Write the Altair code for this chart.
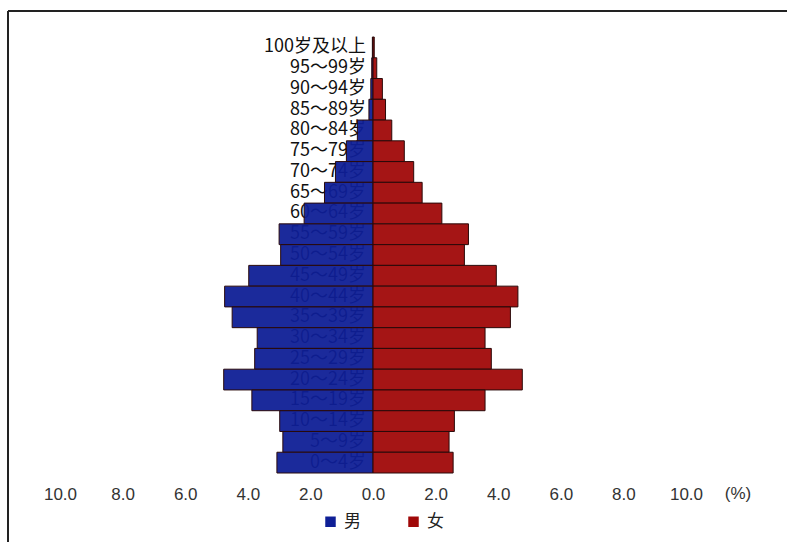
import altair as alt
import pandas as pd

ages = ["100岁及以上", "95～99岁", "90～94岁", "85～89岁", "80～84岁", "75～79岁",
        "70～74岁", "65～69岁", "60～64岁", "55～59岁", "50～54岁", "45～49岁",
        "40～44岁", "35～39岁", "30～34岁", "25～29岁", "20～24岁", "15～19岁",
        "10～14岁", "5～9岁", "0～4岁"]
male = [0.02, 0.04, 0.07, 0.13, 0.5, 0.85, 1.2, 1.55, 2.2, 3.0, 2.95, 3.97,
        4.74, 4.5, 3.7, 3.78, 4.77, 3.87, 2.98, 2.88, 3.07]
female = [0.04, 0.12, 0.3, 0.4, 0.6, 1.0, 1.3, 1.57, 2.2, 3.05, 2.92, 3.94,
          4.63, 4.39, 3.58, 3.78, 4.77, 3.58, 2.6, 2.43, 2.56]
sexes = ["男", "女"]
colors = ["#0f1f96", "#a00808"]
ticks = [-10, -8, -6, -4, -2, 0, 2, 4, 6, 8, 10]

rows = []
for a, m, f in zip(ages, male, female):
    rows.append({"age": a, "sex": "男", "value": -m})
    rows.append({"age": a, "sex": "女", "value": f})
df = pd.DataFrame(rows)
lab = pd.DataFrame({"age": ages})

xscale = alt.Scale(domain=[-10, 10], nice=False, zero=False)
yscale = alt.Scale(domain=ages, paddingInner=0, paddingOuter=0)

bars = alt.Chart(df).mark_bar(stroke="#2a0a0a", strokeWidth=1, fillOpacity=0.95).encode(
    x=alt.X("value:Q", scale=xscale, stack=None,
            axis=alt.Axis(values=ticks, labelExpr="format(abs(datum.value), '.1f')",
                          domain=False, ticks=False, grid=False, title=None,
                          labelFlush=False, labelOverlap=False,
                          labelFontSize=17, labelFont="Liberation Sans",
                          labelColor="#333", labelPadding=13)),
    x2=alt.datum(0),
    y=alt.Y("age:N", scale=yscale, axis=None),
    color=alt.Color("sex:N", scale=alt.Scale(domain=sexes, range=colors),
                    legend=alt.Legend(orient="none", legendX=262, legendY=476,
                                      direction="horizontal", title=None,
                                      symbolType="square", symbolSize=110,
                                      symbolStrokeWidth=0, symbolOpacity=1,
                                      labelFontSize=17, labelFont="Noto Sans CJK SC",
                                      labelColor="#222", columnPadding=44,
                                      labelOffset=5)),
)

labels = alt.Chart(lab).mark_text(align="right", baseline="middle", dx=-7,
                                  fontSize=18, font="Noto Sans CJK SC",
                                  color="#111").encode(
    x=alt.datum(0),
    y=alt.Y("age:N", scale=yscale, axis=None),
    text="age:N",
)

pct = alt.Chart(pd.DataFrame({"t": ["(%)"]})).mark_text(
    align="center", baseline="middle", fontSize=17, font="Liberation Sans",
    color="#333", dx=52).encode(
    x=alt.datum(10), y=alt.value(457), text="t:N")

top_line = alt.Chart(pd.DataFrame({"a": [0]})).mark_rule(
    color="#222", strokeWidth=2).encode(
    x=alt.value(-52), x2=alt.value(727), y=alt.value(-26))
left_line = alt.Chart(pd.DataFrame({"a": [0]})).mark_rule(
    color="#222", strokeWidth=2).encode(
    x=alt.value(-52), y=alt.value(-26), y2=alt.value(505))

chart = alt.layer(labels, bars, pct, top_line, left_line).properties(
    width=626, height=436,
    background="white",
    autosize=alt.AutoSizeParams(type="none"),
    padding={"left": 60, "top": 37, "right": 101, "bottom": 69},
).configure_view(strokeWidth=0, stroke=None)

chart.save("out.html", embed_options={"renderer": "svg", "actions": False})
